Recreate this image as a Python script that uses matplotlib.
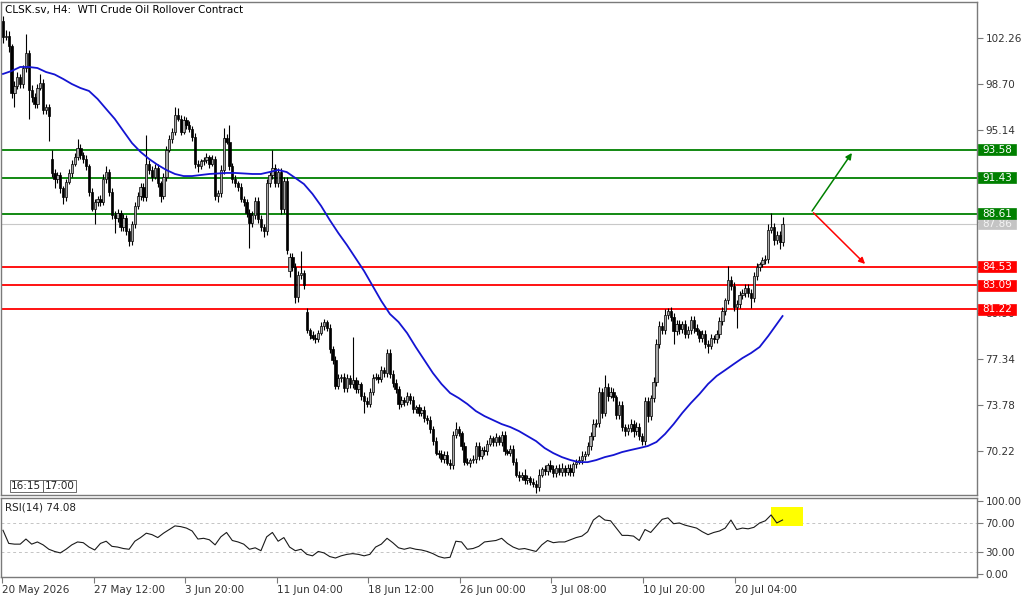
import numpy as np
import matplotlib
matplotlib.use('Agg')
import matplotlib.pyplot as plt
from matplotlib.patches import Rectangle
from matplotlib.transforms import blended_transform_factory

plt.rcParams['font.family'] = ['DejaVu Sans']

# H4 closes (one per bar)
closes = [
    102.3, 102.4, 101.6, 98.0, 98.5, 99.2, 98.7, 99.9, 101.1, 98.2,
    97.7, 97.1, 98.4, 98.8, 96.7, 96.9, 96.2, 91.8, 91.3, 91.6,
    90.6, 89.9, 91.1, 91.8, 92.5, 93.0, 93.7, 93.2, 92.9, 92.3,
    90.3, 89.0, 89.5, 89.8, 89.5, 91.3, 91.9, 90.3, 88.5, 88.3,
    88.7, 87.6, 88.3, 87.3, 86.5, 87.8, 89.2, 90.0, 90.7, 89.9,
    92.5, 92.0, 91.5, 92.2, 91.0, 90.0, 91.5, 93.6, 94.4, 95.0,
    96.3, 96.0, 95.0, 95.9, 95.5, 95.2, 94.6, 92.5, 92.3, 92.7,
    92.8, 93.0, 92.5, 92.9, 90.0, 90.2, 92.0, 94.5, 94.2, 92.3,
    91.3, 91.0, 90.7, 89.8, 89.5, 88.7, 87.9, 88.5, 89.6, 88.2,
    87.6, 87.3, 91.0, 91.6, 92.2, 91.0, 91.9, 89.0, 91.2, 85.8,
    85.3, 84.5, 82.2, 83.9, 84.0, 83.1, 79.6, 79.2, 79.0, 78.9,
    79.4, 79.9, 80.2, 79.8, 78.1, 77.3, 75.3, 75.9, 76.0, 75.1,
    75.9, 75.4, 75.7, 75.0, 75.4, 74.5, 74.1, 73.9, 74.8, 75.9,
    76.0, 75.8, 76.5, 76.3, 77.8, 76.2, 75.5, 75.0, 73.9, 74.2,
    74.0, 74.5, 74.2, 73.5, 73.6, 73.2, 73.4, 72.8, 72.6, 71.9,
    71.0, 70.1, 70.0, 69.6, 69.9, 69.3, 69.1, 71.5, 71.9, 71.6,
    70.6, 69.4, 69.3, 69.5, 69.6, 70.6, 69.8, 70.3, 70.2, 70.8,
    71.2, 70.9, 71.3, 70.9, 71.5, 70.2, 70.1, 70.4, 69.4, 68.4,
    68.2, 68.4, 68.0, 68.1, 67.8, 67.7, 67.4, 68.4, 68.8, 68.7,
    69.1, 68.8, 68.5, 68.9, 68.6, 68.9, 68.6, 68.9, 68.6, 69.2,
    69.4, 69.5, 69.8, 70.0, 70.6, 71.4, 72.3, 72.4, 74.8, 73.2,
    75.2, 74.5, 74.8, 74.4, 73.0, 73.8, 72.1, 71.8, 72.0, 72.3,
    71.8, 72.1, 71.4, 71.0, 74.1, 72.9, 74.3, 75.6, 78.5, 79.9,
    79.6, 80.8, 81.1, 80.6, 79.5, 80.1, 79.7, 80.1, 79.3, 79.6,
    80.4, 79.8, 79.5, 79.0, 79.3, 78.5, 78.4, 79.0, 78.9, 79.3,
    80.3, 81.1, 81.9, 83.5, 83.0, 81.4, 81.6, 82.3, 82.5, 82.9,
    82.5, 82.1, 83.8, 84.5, 84.7, 85.0, 85.1, 87.4, 87.6, 86.6,
    87.0, 86.4, 87.86,
]
first_open = 103.6
# bars that open away from the previous close (weekend gaps)
gap_bars = [17, 100, 106]
gap_opens = [92.9, 84.2, 81.0]

# wick lengths above / below the body
wick_up = [
    .4, .5, .4, .2, .4, .4, .3, .3, 1.5, .2,
    .4, .3, .3, .7, .3, .2, .2, .7, .3, .3,
    .3, .2, .2, .3, .3, .3, .7, .3, .2, .3,
    .2, .3, .3, .2, .3, .4, .4, .2, .3, .3,
    .3, .2, .3, .2, .2, .3, .3, .3, .3, .3,
    2.2, .3, .3, .3, .3, .2, .3, .3, .3, .3,
    .6, .5, .3, .3, .2, .3, .2, .3, .3, .2,
    .2, .3, .2, .3, .2, .3, .4, .8, .3, 1.3,
    .3, .3, .2, .3, .2, .3, .3, .3, .3, .3,
    .3, .2, .3, .3, 1.4, .3, .3, .3, .3, .3,
    .3, .3, .3, .3, 1.7, .3, .3, .2, .3, .3,
    .2, .3, .3, .2, .3, .3, .3, .3, .2, .3,
    .3, .2, 3.4, .3, .3, .2, .3, .3, .3, .3,
    .3, .2, .3, .2, .3, .3, .3, .3, .3, .3,
    .2, .3, .2, .3, .2, .3, .2, .3, .2, .3,
    .3, .3, .2, .3, .3, .3, .3, .3, .6, .3,
    .2, .3, .3, .2, .3, .3, .3, .2, .3, .3,
    .3, .2, .3, .2, .3, .3, .2, .3, .3, .3,
    .3, .2, .4, .3, .2, .3, .3, .4, .2, .3,
    .2, .4, .3, .2, .3, .4, .2, .3, .3, .2,
    .2, .3, .4, .2, .3, .3, .4, .3, .4, .3,
    .9, .3, .4, .3, .2, .3, .3, .2, .3, .4,
    .3, .4, .3, .2, .3, .3, .3, .4, .4, .4,
    .3, .4, .2, .3, .3, .3, .3, .2, .3, .3,
    .3, .3, .3, .2, .3, .3, .3, .3, .2, .3,
    .3, .3, .2, 1.1, .3, .3, .3, .3, .3, .3,
    .3, .3, .3, .3, .2, .3, .3, .4, 1.06, .3,
    .3, .3, .54,
]
wick_dn = [
    .4, .2, .4, .4, 1.1, .2, .3, .3, .3, 2.2,
    .4, .3, .3, .2, .3, .3, 1.9, .3, .7, .3,
    .4, .5, .3, .2, .3, .2, .2, .3, .3, .3,
    .3, .2, 1.2, .3, .3, .2, .3, .3, .3, 1.2,
    .3, .3, .3, .3, .4, .3, .3, .2, .3, .3,
    .3, .3, .3, .2, .3, .5, .2, .3, .2, .3,
    .3, .2, .3, .2, .3, .2, .3, .3, .4, .2,
    .3, .2, .3, .2, .3, .5, .3, .3, .2, .3,
    .3, .3, .3, .3, .3, .3, 1.9, .3, .3, .3,
    .3, .5, .3, .3, .3, .3, .3, .4, .3, .3,
    .5, .3, .5, .4, .3, .3, .2, .3, .2, .3,
    .2, .2, .3, .3, .3, .3, .3, .3, .3, .3,
    .3, .3, .3, .3, .3, .3, .9, .3, .3, .2,
    .2, .3, .2, .3, .3, .3, .3, .3, .4, .3,
    .3, .2, .3, .3, .3, .3, .3, .3, .3, .3,
    .3, .2, .3, .2, .3, .2, .3, .3, .3, .2,
    .3, .3, .2, .3, .2, .3, .3, .2, .3, .3,
    .2, .3, .3, .2, .3, .3, .2, .3, .3, .2,
    .3, .2, .3, .3, .2, .3, .4, .3, .2, .3,
    .3, .2, .3, .3, .2, .3, .3, .2, .3, .3,
    .3, .2, .3, .3, .2, .3, .3, .2, .3, .4,
    .3, .4, .2, .3, .3, .3, .3, .4, .3, .3,
    .5, .3, .3, .3, .3, .4, .3, .3, .3, .3,
    .3, .3, .3, .3, 1.0, .3, .4, .3, .3, .3,
    .3, .4, .3, .3, .3, .3, .6, .3, .3, .3,
    .3, .3, .3, .3, .3, .3, 1.6, .3, .3, .3,
    .3, .8, .3, .3, .3, .2, .3, .3, .3, .4,
    .3, .5, .3,
]

# moving average, one reading every 3 bars (bars 0..270), then the last bar
ma_values = [
    99.47, 99.70, 100.01, 100.01, 99.93, 99.62, 99.43, 99.08, 98.69, 98.38,
    98.15, 97.53, 96.75, 95.98, 95.04, 94.11, 93.42, 92.87, 92.41, 92.02,
    91.71, 91.55, 91.55, 91.63, 91.71, 91.75, 91.79, 91.79, 91.75, 91.71,
    91.71, 91.86, 92.02, 91.86, 91.40, 90.93, 90.16, 89.23, 88.14, 87.13,
    86.20, 85.19, 84.18, 83.02, 81.86, 80.85, 80.23, 79.37, 78.29, 77.28,
    76.27, 75.42, 74.72, 74.33, 73.87, 73.32, 72.93, 72.62, 72.31, 72.08,
    71.77, 71.38, 70.99, 70.45, 70.06, 69.75, 69.52, 69.36, 69.36, 69.52,
    69.75, 69.91, 70.14, 70.30, 70.45, 70.61, 70.92, 71.54, 72.31, 73.17,
    73.94, 74.64, 75.42, 76.04, 76.50, 76.97, 77.43, 77.82, 78.29, 79.14,
    80.07, 80.69,
]
# RSI(14), one reading every 2 bars
rsi_values = [
    60, 42, 41, 41, 48, 41, 44, 40, 34, 31,
    29, 34, 40, 44, 43, 37, 33, 42, 45, 38,
    37, 35, 34, 45, 50, 56, 54, 50, 56, 61,
    66, 65, 63, 59, 48, 49, 47, 40, 51, 57,
    46, 44, 41, 34, 36, 32, 51, 57, 45, 50,
    37, 32, 34, 27, 25, 31, 29, 24, 22, 25,
    27, 28, 27, 25, 27, 37, 41, 49, 43, 36,
    34, 36, 34, 33, 31, 28, 24, 22, 23, 45,
    44, 34, 35, 38, 44, 45, 46, 49, 42, 37,
    34, 35, 33, 31, 40, 46, 43, 44, 44, 47,
    50, 52, 58, 74, 80, 74, 73, 63, 53, 53,
    52, 46, 61, 57, 66, 75, 77, 69, 70, 67,
    65, 63, 58, 54, 57, 59, 63, 74, 61, 63,
    62, 64, 70, 73, 81, 70, 74.08,
]

support_green = [93.58, 91.43, 88.61]
support_red = [84.53, 83.09, 81.22]
last_price = 87.86
price_ticks = [70.22, 73.78, 77.34, 80.90, 84.46, 88.02, 91.58, 95.14, 98.70, 102.26]
hidden_ticks = [84.46, 88.02, 91.58]  # covered by the level boxes on the chart
rsi_ticks = [0, 30, 70, 100]
date_labels = ['20 May 2026', '27 May 12:00', '3 Jun 20:00', '11 Jun 04:00', '18 Jun 12:00',
               '26 Jun 00:00', '3 Jul 08:00', '10 Jul 20:00', '20 Jul 04:00']

# ---- build candles
closes = np.array(closes)
opens = np.r_[first_open, closes[:-1]]
for b, o in zip(gap_bars, gap_opens):
    opens[b] = o
highs = np.maximum(opens, closes) + np.array(wick_up)
lows = np.minimum(opens, closes) - np.array(wick_dn)
idx = np.arange(len(closes))
up = closes >= opens

fig = plt.figure(figsize=(10.24, 5.97), dpi=100)
ax = fig.add_axes([1 / 1024, 1 - 495 / 597, 976 / 1024, 493 / 597])
ax2 = fig.add_axes([1 / 1024, 1 - 577 / 597, 976 / 1024, 79 / 597])

xlim = (-0.70, 339.85)
ylim = (66.81, 105.05)
spine_col = '#7a7a7a'
txt_col = '#333333'

# horizontal levels
for lv in support_green:
    ax.axhline(lv, color='#008000', lw=1.3, zorder=1)
for lv in support_red:
    ax.axhline(lv, color='#ff0000', lw=1.3, zorder=1)
ax.axhline(last_price, color='#c8c8c8', lw=0.8, zorder=0.5)

# candles
ax.vlines(idx, lows, highs, color='black', lw=0.8, zorder=2)
ax.bar(idx[up], (closes - opens)[up], bottom=opens[up], width=0.8, color='#a8a8a8',
       edgecolor='black', linewidth=0.5, zorder=3)
ax.bar(idx[~up], (closes - opens)[~up], bottom=opens[~up], width=0.8, color='black',
       edgecolor='black', linewidth=0.5, zorder=3)

# moving average
ma_bars = list(range(0, 271, 3)) + [272]
ax.plot(ma_bars, ma_values, color='#1414d2', lw=1.3, zorder=4)

# arrows
ax.annotate('', xy=(296.2, 93.34), xytext=(282.3, 88.84),
            arrowprops=dict(arrowstyle='-|>', color='#008000', lw=1.1, mutation_scale=9,
                            shrinkA=0, shrinkB=0))
ax.annotate('', xy=(300.8, 84.73), xytext=(282.8, 88.70),
            arrowprops=dict(arrowstyle='-|>', color='#ff0000', lw=1.1, mutation_scale=9,
                            shrinkA=0, shrinkB=0))

ax.set_xlim(*xlim)
ax.set_ylim(*ylim)
ax.yaxis.tick_right()
ax.set_yticks(price_ticks)
ax.set_yticklabels(['' if t in hidden_ticks else f'{t:.2f}' for t in price_ticks])
ax.tick_params(axis='y', direction='out', length=4, width=0.8, color=spine_col,
               labelsize=7.5, labelcolor=txt_col, pad=2)
ax.tick_params(axis='x', bottom=False, labelbottom=False)
for s in ax.spines.values():
    s.set_color(spine_col)
    s.set_linewidth(1.0)

# price boxes on the right axis (11 px tall, 38 px wide)
trans = blended_transform_factory(ax.transAxes, ax.transData)
box_h = 11 / (493 / (ylim[1] - ylim[0]))
box_x0, box_w = 1.001, 38 / 976


def level_box(lv, fc, tc, z):
    ax.add_patch(Rectangle((box_x0, lv - box_h / 2), box_w, box_h, transform=trans,
                           fc=fc, ec=fc, lw=0.5, clip_on=False, zorder=z))
    ax.text(box_x0 + box_w / 2, lv, f'{lv:.2f}', transform=trans, ha='center', va='center',
            fontsize=7.5, color=tc, zorder=z + 0.1, clip_on=False)


level_box(last_price, '#c4c4c4', '#f4f4f4', 8)
for lv in support_green:
    level_box(lv, '#008000', 'white', 10)
for lv in support_red:
    level_box(lv, '#ff0000', 'white', 10)

ax.text(0.004, 0.984, 'CLSK.sv, H4:  WTI Crude Oil Rollover Contract', transform=ax.transAxes,
        ha='left', va='center', fontsize=7.5, color='black')
for xx, lab in [(0.0105, '16:15'), (0.0445, '17:00')]:
    ax.text(xx, 0.018, lab, transform=ax.transAxes, ha='left', va='center', fontsize=7.5,
            color='#222222', bbox=dict(boxstyle='square,pad=0.12', fc='white', ec='#555555', lw=0.6))

# ---- RSI pane
rsi_bars = list(range(0, 273, 2))
ax2.add_patch(Rectangle((268.0, 65.9), 11.2, 26.0, fc='#ffff00', ec='none', zorder=1))
ax2.axhline(70, color='#c4c4c4', lw=0.7, ls=(0, (3, 3)), zorder=0.5)
ax2.axhline(30, color='#c4c4c4', lw=0.7, ls=(0, (3, 3)), zorder=0.5)
ax2.plot(rsi_bars, rsi_values, color='#1a1a1a', lw=0.8, zorder=3)
ax2.set_xlim(*xlim)
ax2.set_ylim(-4.0, 104.2)
ax2.yaxis.tick_right()
ax2.set_yticks(rsi_ticks)
ax2.set_yticklabels([f'{t:.2f}' for t in rsi_ticks])
ax2.tick_params(axis='y', direction='out', length=4, width=0.8, color=spine_col,
                labelsize=7.5, labelcolor=txt_col, pad=2)
tick_pos = [-0.35 + 31.95 * k for k in range(len(date_labels))]
ax2.set_xticks(tick_pos)
ax2.set_xticklabels(date_labels)
for lab in ax2.get_xticklabels():
    lab.set_horizontalalignment('left')
ax2.tick_params(axis='x', direction='out', length=4, width=0.8, color=spine_col,
                labelsize=7.5, labelcolor=txt_col, pad=1.5)
for s in ax2.spines.values():
    s.set_color(spine_col)
    s.set_linewidth(1.0)
ax2.text(0.004, 0.886, 'RSI(14) 74.08', transform=ax2.transAxes, ha='left', va='center',
         fontsize=7.5, color='#222222')

fig.savefig('out.png', dpi=100, facecolor='white')
